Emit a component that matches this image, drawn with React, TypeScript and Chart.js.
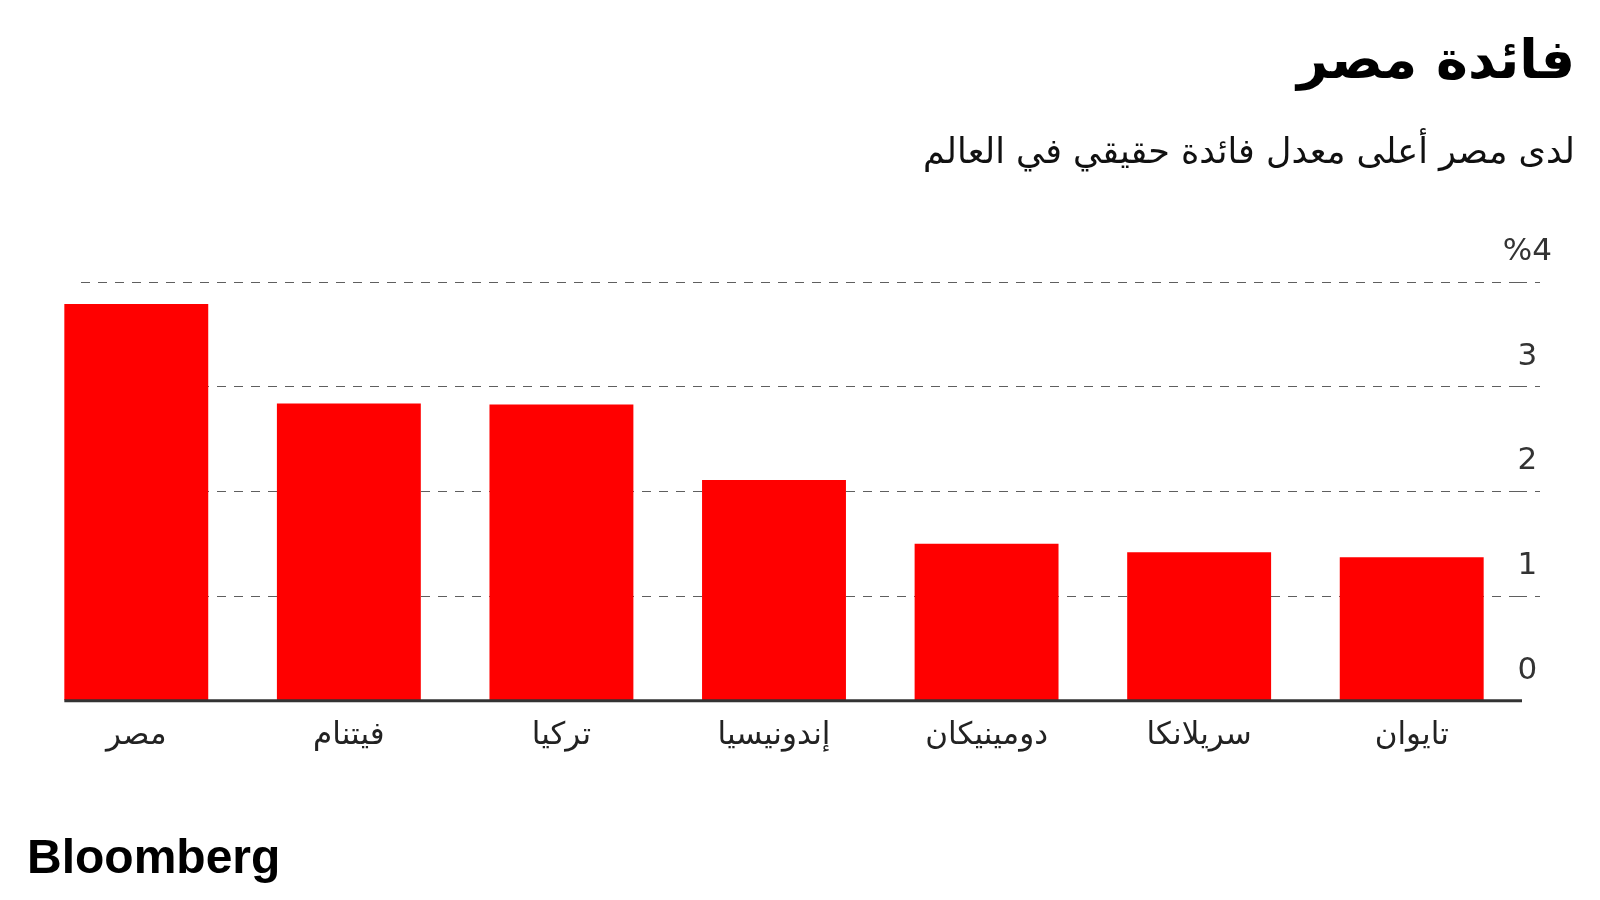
import React, { useEffect, useRef } from "react";
import { Chart, registerables } from "chart.js";

Chart.register(...registerables);

// ---- data ----
const categories = ["مصر", "فيتنام", "تركيا", "إندونيسيا", "دومينيكان", "سريلانكا", "تايوان"];
const realRates = [3.79, 2.84, 2.83, 2.11, 1.5, 1.42, 1.37];
const yTickLabels = ["0", "1", "2", "3", "%4"];
const titleText = "فائدة مصر";
const subtitleText = "لدى مصر أعلى معدل فائدة حقيقي في العالم";
const sourceText = "Bloomberg";

// hides the dashed grid left of where the reference starts it (just inside the first bar)
const gridMaskPlugin = {
  id: "gridMask",
  beforeDatasetsDraw(chart: any) {
    const meta = chart.getDatasetMeta(0);
    const first = meta.data[0];
    if (!first) return;
    const { x, width } = first.getProps(["x", "width"], true);
    const left = chart.chartArea.left;
    const stop = x - width / 2 + 16;
    const ctx = chart.ctx;
    ctx.save();
    ctx.fillStyle = "#ffffff";
    ctx.fillRect(left - 2, chart.chartArea.top - 3, stop - left + 2, chart.chartArea.bottom - chart.chartArea.top + 6);
    ctx.restore();
  },
};

const baselinePlugin = {
  id: "baseline",
  afterDatasetsDraw(chart: any) {
    const meta = chart.getDatasetMeta(0);
    const first = meta.data[0];
    if (!first) return;
    const { x, width } = first.getProps(["x", "width"], true);
    const y = chart.scales.y.getPixelForValue(0);
    const ctx = chart.ctx;
    ctx.save();
    ctx.strokeStyle = "#333333";
    ctx.lineWidth = 3;
    ctx.beginPath();
    ctx.moveTo(x - width / 2, y);
    ctx.lineTo(chart.chartArea.right + 4, y);
    ctx.stroke();
    ctx.restore();
  },
};

export default function App() {
  const canvasRef = useRef<HTMLCanvasElement | null>(null);

  useEffect(() => {
    if (!canvasRef.current) return;
    const gridColor = (ctx: any) => (ctx.tick && ctx.tick.value === 0 ? "rgba(0,0,0,0)" : "#5f5f5f");
    const chart = new Chart(canvasRef.current, {
      type: "bar",
      data: {
        labels: categories,
        datasets: [
          {
            data: realRates,
            backgroundColor: "#FF0000",
            borderWidth: 0,
            categoryPercentage: 1,
            barPercentage: 0.677,
          },
        ],
      },
      plugins: [gridMaskPlugin, baselinePlugin],
      options: {
        animation: false,
        responsive: false,
        devicePixelRatio: 1,
        layout: { padding: { top: 282, right: 0, bottom: 128, left: 30 } },
        plugins: {
          legend: { display: false },
          title: { display: false },
          tooltip: { enabled: false },
        },
        scales: {
          x: {
            grid: { display: false, drawTicks: false },
            border: { display: false },
            ticks: {
              color: "#222222",
              font: { family: "'DejaVu Sans'", size: 31 },
              padding: 17,
              maxRotation: 0,
              autoSkip: false,
            },
          },
          y: {
            position: "right",
            min: 0,
            max: 4,
            afterFit: (scale: any) => {
              scale.width = 82;
            },
            grid: {
              color: gridColor,
              tickColor: gridColor,
              lineWidth: 1,
              tickWidth: 1,
              tickLength: 22,
              drawTicks: true,
              borderDash: [9, 8],
              tickBorderDash: [9, 8],
            } as any,
            border: { display: false, dash: [9, 8] },
            ticks: {
              stepSize: 1,
              color: "#333333",
              font: { family: "'DejaVu Sans'", size: 31 },
              mirror: true,
              crossAlign: "center",
              padding: 34,
              labelOffset: -30,
              callback: (value: any) => yTickLabels[Number(value)] ?? String(value),
            },
          },
        },
      },
    });
    return () => chart.destroy();
  }, []);

  return (
    <div style={{ position: "absolute", left: 0, top: 0, width: 1600, height: 900, background: "#ffffff", overflow: "hidden" }}>
      <canvas ref={canvasRef} width={1600} height={900} style={{ position: "absolute", left: 0, top: 0, width: 1600, height: 900 }} />
      <div
        dir="rtl"
        style={{
          position: "absolute",
          right: 25,
          top: 33,
          fontFamily: "'DejaVu Sans', sans-serif",
          fontWeight: 700,
          fontSize: 54,
          lineHeight: 1,
          color: "#000000",
          whiteSpace: "nowrap",
        }}
      >
        {titleText}
      </div>
      <div
        dir="rtl"
        style={{
          position: "absolute",
          right: 25,
          top: 134,
          fontFamily: "'DejaVu Sans', sans-serif",
          fontWeight: 400,
          fontSize: 35,
          lineHeight: 1,
          color: "#111111",
          whiteSpace: "nowrap",
        }}
      >
        {subtitleText}
      </div>
      <div
        style={{
          position: "absolute",
          left: 27,
          top: 833,
          fontFamily: "'Liberation Sans', Arial, sans-serif",
          fontWeight: 700,
          fontSize: 48,
          lineHeight: 1,
          letterSpacing: 0,
          color: "#000000",
          whiteSpace: "nowrap",
        }}
      >
        {sourceText}
      </div>
    </div>
  );
}
